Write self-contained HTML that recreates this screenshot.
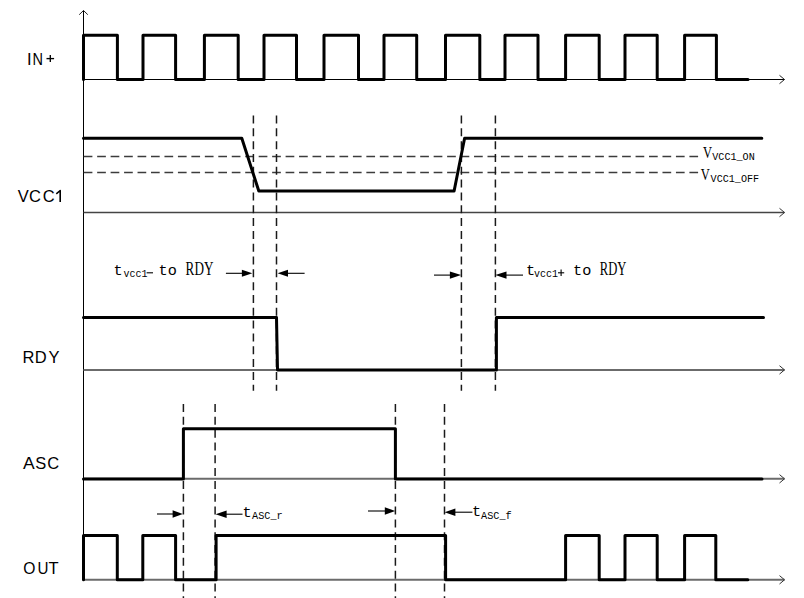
<!DOCTYPE html>
<html><head><meta charset="utf-8">
<style>
html,body{margin:0;padding:0;background:#fff;width:804px;height:598px;overflow:hidden}
svg{display:block}
.sans{font-family:"Liberation Sans",sans-serif}
.serif{font-family:"Liberation Serif",serif}
</style></head><body>
<svg width="804" height="598" viewBox="0 0 804 598">
<rect x="0" y="0" width="804" height="598" fill="#fff"/>

<!-- vertical axis -->
<line x1="83.5" y1="10.5" x2="83.5" y2="580" stroke="#000" stroke-width="1"/>
<polyline points="79.2,14.7 83.5,10.5 87.8,14.7" fill="none" stroke="#222" stroke-width="1"/>

<!-- horizontal axes -->
<g fill="none">
<line x1="83.5" y1="79.5" x2="784.5" y2="79.5" stroke="#000" stroke-width="1"/>
<polyline points="779.5,75.3 784.5,79.5 779.5,83.7" stroke="#222" stroke-width="1"/>
<line x1="83.5" y1="212.5" x2="784.5" y2="212.5" stroke="#444" stroke-width="1.4"/>
<polyline points="779.5,208.3 784.5,212.5 779.5,216.7" stroke="#333" stroke-width="1"/>
<line x1="83.5" y1="369.9" x2="784.5" y2="369.9" stroke="#6b6b6b" stroke-width="2"/>
<polyline points="779.5,365.7 784.5,369.9 779.5,374.1" stroke="#333" stroke-width="1"/>
<line x1="83.5" y1="478.8" x2="784.5" y2="478.8" stroke="#6b6b6b" stroke-width="2"/>
<polyline points="779.5,474.6 784.5,478.8 779.5,483" stroke="#333" stroke-width="1"/>
<line x1="83.5" y1="579.8" x2="784.5" y2="579.8" stroke="#6b6b6b" stroke-width="2"/>
<polyline points="779.5,575.6 784.5,579.8 779.5,584" stroke="#333" stroke-width="1"/>
</g>

<!-- dashed threshold lines -->
<g stroke="#3c3c3c" stroke-width="1.3" stroke-dasharray="8.7 4.76" fill="none">
<line x1="83.7" y1="156.5" x2="698.4" y2="156.5"/>
<line x1="83.7" y1="172.5" x2="698.4" y2="172.5"/>
</g>

<!-- vertical dashed lines -->
<g stroke="#1a1a1a" stroke-width="1.5" stroke-dasharray="8 4.82" fill="none">
<line x1="253.4" y1="115.5" x2="253.4" y2="390.7"/>
<line x1="276.5" y1="115.5" x2="276.5" y2="390.7"/>
<line x1="461.4" y1="115.5" x2="461.4" y2="390.7"/>
<line x1="495.4" y1="115.5" x2="495.4" y2="390.7"/>
<line x1="183.4" y1="404" x2="183.4" y2="600"/>
<line x1="215.1" y1="404" x2="215.1" y2="600"/>
<line x1="395.4" y1="404" x2="395.4" y2="600"/>
<line x1="444.5" y1="404" x2="444.5" y2="600"/>
</g>

<!-- waveforms -->
<g fill="none" stroke="#000" stroke-width="3" stroke-linejoin="round" stroke-linecap="round">
<path d="M83.5,79.5 V35.3 H117.4 V79.5 H143 V35.3 H175.6 V79.5 H204.4 V35.3 H238.2 V79.5 H264 V35.3 H296.5 V79.5 H324 V35.3 H358.5 V79.5 H384 V35.3 H416.7 V79.5 H445.5 V35.3 H479.8 V79.5 H505 V35.3 H538 V79.5 H565.6 V35.3 H599.2 V79.5 H625 V35.3 H657.2 V79.5 H684.6 V35.3 H716.4 V79.5 H748"/>
<path d="M83.5,138.3 H241.8 L258.8,191 H454.1 L464.6,138.3 H761.8"/>
<path d="M83.5,317.6 H276.5 L277.5,369.9 H496.4 V317.6 H763.5"/>
<path d="M83.5,479.1 H183.4 V428.7 H395.4 V479.1 H762"/>
<path d="M83.5,579.7 V535.5 H117.3 V579.7 H142.8 V535.5 H175.6 V579.7 H216.1 V535.5 H445.6 V579.7 H565.6 V535.5 H599.2 V579.7 H625 V535.5 H657.2 V579.7 H684.6 V535.5 H715.8 V579.7 H747.8"/>
</g>

<!-- dimension arrows -->
<g stroke="#000" stroke-width="1.1" fill="none">
<line x1="225.9" y1="273.3" x2="244" y2="273.3"/>
<line x1="286" y1="273.3" x2="304.6" y2="273.3"/>
<line x1="434" y1="275.1" x2="451" y2="275.1"/>
<line x1="505" y1="275.1" x2="523" y2="275.1"/>
<line x1="157" y1="514" x2="174" y2="514"/>
<line x1="225" y1="514.2" x2="242.5" y2="514.2"/>
<line x1="368" y1="511" x2="386" y2="511"/>
<line x1="453" y1="512.2" x2="472.4" y2="512.2"/>
</g>
<g fill="#000">
<polygon points="252.3,273.3 241.9,269.8 241.9,276.8"/>
<polygon points="277.6,273.3 288,269.8 288,276.8"/>
<polygon points="461.1,275.1 449.9,271.5 449.9,278.7"/>
<polygon points="495.3,275.1 506.5,271.5 506.5,278.7"/>
<polygon points="182.8,514 172.6,510.2 172.6,517.8"/>
<polygon points="215.6,514.2 226.6,510.4 226.6,518"/>
<polygon points="395.2,511 384.8,507.2 384.8,514.8"/>
<polygon points="444.6,512.2 455.4,508.4 455.4,516"/>
</g>

<!-- left labels -->
<g font-family="Liberation Sans" font-size="16.5" fill="#000">
<text y="64.8" x="27">I</text><text transform="translate(32.4,64.8) scale(0.88,1)">N</text>
<text y="201.8"><tspan x="17.7">V</tspan><tspan x="29">C</tspan><tspan x="42.7">C</tspan></text>
<text y="362.9"><tspan x="22.5">R</tspan><tspan x="34.7">D</tspan><tspan x="48.4">Y</tspan></text>
<text transform="translate(22.9,468.8) scale(1.06,1)">A</text><text y="468.8"><tspan x="35.2">S</tspan><tspan x="47.2">C</tspan></text>
<text transform="translate(23.3,573.8) scale(0.95,1)">O</text><text transform="translate(37.6,573.8) scale(0.92,1)">U</text><text x="48.5" y="573.8">T</text>
</g>

<!-- serif labels -->
<g font-family="Liberation Serif" fill="#000">
<text font-size="17.6" transform="translate(702.9,158.3) scale(0.71,1)">V</text>
<text font-size="17.6" transform="translate(700.7,179.9) scale(0.71,1)">V</text>
<text font-size="17.8" transform="translate(185.6,275) scale(0.74,1)">RDY</text>
<text font-size="17.8" transform="translate(599.8,275.1) scale(0.71,1)">RDY</text>
</g>
<g font-family="Liberation Mono" fill="#000">
<text font-size="10.1" transform="translate(712.3,159.7) scale(1,1.17)">VCC1_ON</text>
<text font-size="10.1" transform="translate(710.6,181.6) scale(1,1.17)">VCC1_OFF</text>

<text font-size="15.2" x="113.6" y="274.8">t</text>
<text font-size="10" transform="translate(123.4,276.7) scale(1,1.1)">vcc1</text>
<text font-size="15.2" x="158.6" y="275">to</text>

<text font-size="15.2" x="526.1" y="275.1">t</text>
<text font-size="10" transform="translate(533.9,276.9) scale(1,1.1)">vcc1</text>
<text font-size="15.2" x="573.1" y="275.1">to</text>

<text font-size="15.2" x="242.6" y="517.1">t</text>
<text font-size="10.2" transform="translate(252.1,518.7) scale(1,1.16)">ASC_r</text>

<text font-size="15.2" x="471.9" y="516">t</text>
<text font-size="10.2" transform="translate(481.1,518.7) scale(1,1.16)">ASC_f</text>
</g>
<g stroke="#000" stroke-width="1.1" fill="none">
<path d="M60.2,201.9 V190.5 L56.3,193.8" stroke-width="1.6" stroke-linejoin="round"/>
<line x1="46.5" y1="58.6" x2="54.1" y2="58.6" stroke-width="1.35"/>
<line x1="50.3" y1="55" x2="50.3" y2="62.1" stroke-width="1.35"/>
<line x1="146.6" y1="272.8" x2="153" y2="272.8"/>
<line x1="558" y1="272.8" x2="564.2" y2="272.8"/>
<line x1="561.1" y1="269.6" x2="561.1" y2="276"/>
</g>
</svg>
</body></html>
